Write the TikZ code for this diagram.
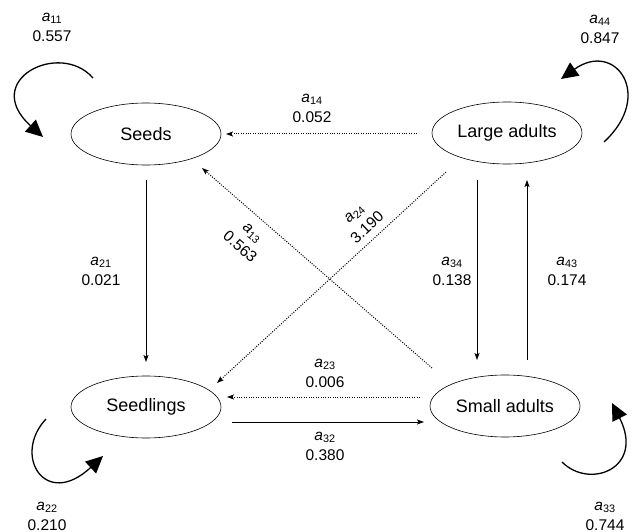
\documentclass[tikz,border=0pt]{standalone}
\usepackage{fontspec}
\setmainfont{Liberation Sans}
\usetikzlibrary{arrows.meta,calc,shapes.geometric}
\newcommand{\coef}[1]{\textit{a}\textsubscript{#1}}
\begin{document}
\begin{tikzpicture}[x=1pt,y=-1pt,
  stage/.style={draw,ellipse,line width=0.6pt,minimum width=150pt,minimum height=62pt,inner sep=0pt,font=\fontsize{18}{20}\selectfont},
  lab/.style={align=center,inner sep=0pt,font=\fontsize{15.5}{20}\selectfont},
  solidarr/.style={line width=0.8pt,-{Stealth[length=7pt,width=5pt,inset=1.5pt]}},
  dotarr/.style={line width=1pt,dash pattern=on 1pt off 1.4pt,-{Stealth[length=7pt,width=5pt,inset=1.5pt]}},
  loopy/.style={line width=1.3pt,-{Triangle[length=17pt,width=16pt]}}]
\useasboundingbox (0,0) rectangle (638,532);
\node[stage] (seeds) at (146,134) {Seeds};
\node[stage] (large) at (507,133) {Large adults};
\node[stage] (seedl) at (146,407) {Seedlings};
\node[stage] (small) at (505,406) {Small adults};
% connectors
\draw[solidarr] ($(seeds)+(0,46)$) -- ($(seedl)+(0,-45)$);
\draw[solidarr] ($(large)+(-30,47)$) -- ($(small)+(-28,-46)$);
\draw[solidarr] ($(small)+(22,-46)$) -- ($(large)+(20,47)$);
\draw[dotarr] ($(large)+(-90,1)$) -- ($(seeds)+(80,0)$);
\draw[dotarr] ($(small)+(-85,-9)$) -- ($(seedl)+(81,-10)$);
\draw[solidarr] ($(seedl)+(86,15)$) -- ($(small)+(-81,16)$);
\draw[dotarr] ($(small)+(-73,-38)$) -- ($(seeds)+(56,34)$);
\draw[dotarr] ($(large)+(-61,39)$) -- ($(seedl)+(71,-24)$);
% self loops
\coordinate (l11s) at (93,78);   \coordinate (l11e) at (43,137);
\coordinate (l44s) at (604,142); \coordinate (l44e) at (561,79);
\coordinate (l22s) at (46,419);  \coordinate (l22e) at (103,456);
\coordinate (l33s) at (562,462); \coordinate (l33e) at (612,403);
\draw[loopy] (l11s) .. controls (60,40) and (-20,80) .. (l11e);
\draw[loopy] (l44s) .. controls (655,95) and (615,40) .. (l44e);
\draw[loopy] (l22s) .. controls (12,455) and (45,510) .. (l22e);
\draw[loopy] (l33s) .. controls (590,490) and (645,468) .. (l33e);
% labels
\node[lab] (t11) at (52,27) {\coef{11}\\0.557};
\node[lab] (t44) at (600,29) {\coef{44}\\0.847};
\node[lab] (t14) at (312,108) {\coef{14}\\0.052};
\node[lab] (t21) at (101,271) {\coef{21}\\0.021};
\node[lab] (t34) at (452,271) {\coef{34}\\0.138};
\node[lab] (t43) at (567,271) {\coef{43}\\0.174};
\node[lab] (t23) at (325,373) {\coef{23}\\0.006};
\node[lab] (t32) at (325,446) {\coef{32}\\0.380};
\node[lab] (t22) at (47,516) {\coef{22}\\0.210};
\node[lab] (t33) at (605,516) {\coef{33}\\0.744};
\node[lab,rotate=-41] (t13) at (246,240) {\coef{13}\\0.563};
\node[lab,rotate=43] (t24) at (361,221) {\coef{24}\\3.190};
\end{tikzpicture}
\end{document}
